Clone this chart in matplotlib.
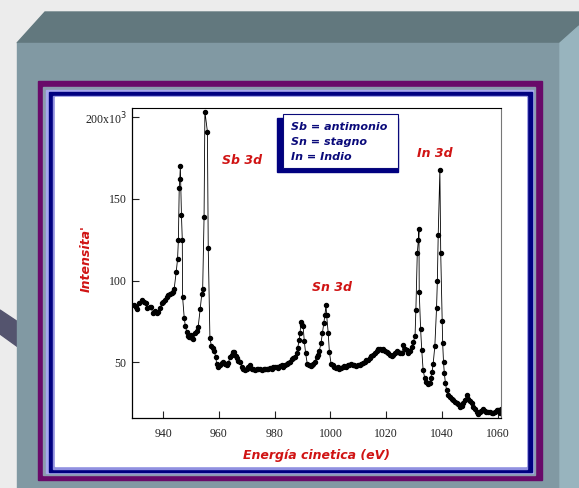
import matplotlib
matplotlib.use("Agg")
import matplotlib.pyplot as plt
from matplotlib.patches import Rectangle, Polygon

# XPS-like spectrum: kinetic energy (eV) and intensity (x10^3)
energy = [929.6, 930.2, 930.8, 931.5, 932.4, 933.2, 933.8, 934.2, 935.3, 935.8,
          936.3, 937.1, 937.7, 938.3, 939.0, 939.5, 940.1, 940.7, 941.3, 941.9,
          942.5, 943.1, 943.6, 944.0, 944.7, 945.2, 945.5, 945.8, 946.0, 946.2,
          946.6, 946.9, 947.0, 947.6, 948.0, 948.5, 949.0, 949.4, 950.0, 950.3,
          950.9, 951.5, 952.1, 952.6, 953.3, 953.9, 954.2, 954.7, 955.0, 955.9,
          956.2, 956.8, 957.3, 957.8, 958.3, 958.9, 959.2, 959.8, 960.4, 961.0,
          961.6, 962.2, 962.8, 963.4, 964.0, 964.6, 965.0, 965.4, 966.0, 966.4,
          967.0, 967.6, 968.2, 968.8, 969.4, 970.0, 970.6, 971.2, 971.8, 972.4,
          973.0, 973.6, 974.2, 974.8, 975.4, 976.0, 976.6, 977.2, 977.7, 978.3,
          978.9, 979.5, 980.1, 980.7, 981.3, 981.9, 982.5, 983.1, 983.7, 984.3,
          984.9, 985.5, 986.1, 986.7, 987.3, 987.9, 988.2, 988.8, 989.1, 989.4,
          989.7, 990.2, 990.6, 991.1, 991.7, 992.3, 992.9, 993.4, 993.8, 994.4,
          995.0, 995.4, 996.0, 996.6, 997.1, 997.6, 998.0, 998.4, 998.6, 999.2,
          999.6, 1000.2, 1000.8, 1001.4, 1002.0, 1002.6, 1003.2, 1003.8, 1004.4, 1005.0,
          1005.6, 1006.2, 1006.8, 1007.4, 1008.0, 1008.6, 1009.2, 1009.8, 1010.4, 1011.0,
          1011.6, 1012.2, 1012.8, 1013.4, 1014.0, 1014.6, 1015.2, 1015.9, 1016.5, 1017.1,
          1017.7, 1018.3, 1018.9, 1019.5, 1020.1, 1020.7, 1021.3, 1021.9, 1022.5, 1023.1,
          1023.7, 1024.3, 1024.9, 1025.5, 1026.1, 1026.7, 1027.3, 1027.9, 1028.5, 1029.1,
          1029.7, 1030.3, 1030.6, 1031.1, 1031.5, 1031.7, 1031.8, 1032.3, 1032.7, 1033.2,
          1033.8, 1034.4, 1035.0, 1035.6, 1035.9, 1036.4, 1036.8, 1037.4, 1038.0, 1038.3,
          1038.6, 1039.2, 1039.5, 1040.0, 1040.2, 1040.5, 1040.8, 1041.2, 1041.6, 1042.2,
          1042.8, 1043.4, 1044.0, 1044.6, 1045.2, 1045.8, 1046.4, 1047.0, 1047.6, 1048.2,
          1048.8, 1049.4, 1050.0, 1050.6, 1051.2, 1051.8, 1052.4, 1052.9, 1053.5, 1054.1,
          1054.7, 1055.3, 1055.9, 1056.5, 1057.1, 1057.7, 1058.3, 1058.9, 1059.5, 1060.1,
          1060.6, 1061.0]
intensity = [85, 83.5, 82.3, 86, 88, 87, 86.5, 83, 84, 83.5,
             80, 81.5, 80, 81, 83, 86, 87, 88, 90, 91,
             91.5, 92.5, 93, 95, 105, 113, 125, 156.5, 162, 170,
             140, 125, 90, 77, 72, 68.6, 66, 65.5, 66.5, 65,
             64, 67.6, 69, 71.7, 82.3, 92, 94.6, 138.8, 203.6, 191.3,
             119.7, 65, 60, 58.4, 57, 53, 49, 47, 48, 49.5,
             50, 49, 48.5, 49.5, 53, 54.5, 56.3, 56, 54, 52.5,
             50.5, 50, 47, 46, 45, 46, 47, 48, 46, 45.5,
             45, 45.5, 46, 45.5, 45, 46, 45.5, 45.5, 46, 46.5,
             46, 47, 47, 47, 46.5, 47.5, 48, 47, 48, 49,
             49.5, 50, 51.6, 52.5, 53.3, 55.3, 58.4, 63.5, 68, 74.5,
             73, 72, 63, 55.3, 48.8, 48, 47.5, 48, 48.8, 50,
             53, 54.3, 57, 61.5, 67.6, 74, 78.8, 85, 79, 67.6,
             56.3, 49, 48, 47, 46.5, 47, 46, 46.5, 47, 47.5,
             47, 48, 48.5, 49, 48.5, 48, 47.5, 48, 48.5, 49,
             49.5, 50, 51, 51.5, 52.3, 53.5, 54.5, 55.3, 57, 57.8,
             58, 57.5, 57.8, 56.5, 56, 55.3, 54.5, 54, 54.3, 55.5,
             57, 56, 55.7, 55.3, 60.4, 58, 57.4, 55.7, 57, 59.4,
             62.5, 66, 82, 116.7, 125, 131.6, 93, 70, 57.4, 45,
             40, 37.5, 36.5, 37, 40, 44, 49, 60, 83, 100,
             128, 167.8, 117, 75, 61.5, 50, 43, 37, 32.8, 30,
             28.7, 27.5, 26.5, 25.7, 25, 24, 22.6, 23, 25, 27,
             29.8, 27.1, 26, 25, 22.6, 21, 19.5, 18.1, 19.5, 20,
             21, 20, 19.5, 19.5, 19.5, 19, 18.9, 19.5, 20.5, 20.5,
             19, 21]

x_ticks = [940, 960, 980, 1000, 1020, 1040, 1060]
y_ticks = [50, 100, 150, 200]
y_ticklabels = ["50", "100", "150", "200x10$^3$"]

peaks = [("Sb 3d", 968.3, 173.3), ("Sn 3d", 1000.5, 96.0), ("In 3d", 1037.4, 177.6)]
legend_lines = ["Sb = antimonio", "Sn = stagno", "In = Indio"]

red = "#d01414"
navy = "#0a0a7a"

W, H = 579, 488
fig = plt.figure(figsize=(W / 100, H / 100), dpi=100)
fig.patch.set_facecolor("#ececec")

# slide decoration, drawn in pixel coordinates
bg = fig.add_axes([0, 0, 1, 1])
bg.set_xlim(0, W)
bg.set_ylim(H, 0)
bg.axis("off")
bg.add_patch(Polygon([(0, 310), (18, 322), (18, 347), (0, 334)], color="#54546e"))
bg.add_patch(Polygon([(17, 43), (45, 12), (579, 12), (579, 26), (560, 43)], color="#62787e"))
bg.add_patch(Rectangle((17, 43), 543, 445, color="#8199a3"))
bg.add_patch(Polygon([(560, 43), (579, 26), (579, 488), (560, 488)], color="#98b4be"))

frame = [((38, 81), (542, 480), "#690a69"),
         ((43, 87), (535, 475), "#8b9cae"),
         ((46, 90), (533, 473), "#a8a8ee"),
         ((49, 92), (532, 472), "#000080"),
         ((53, 96), (527, 469), "#9090e0"),
         ((55, 97), (526, 466), "white")]
for (x0, y0), (x1, y1), c in frame:
    bg.add_patch(Rectangle((x0, y0), x1 - x0, y1 - y0, color=c))

# legend box with navy drop shadow
bg.add_patch(Rectangle((277, 118), 121, 54, color="#000080"))
bg.add_patch(Rectangle((283, 113.5), 115, 54.5, facecolor="white", edgecolor=navy, lw=0.8))
for i, line in enumerate(legend_lines):
    bg.text(291, 127 + i * 15, line, color=navy, fontsize=8, fontweight="bold",
            fontstyle="italic", va="center", ha="left")

# spectrum
ax = fig.add_axes([131.5 / W, 1 - 418 / H, 369.5 / W, 310 / H])
ax.set_facecolor("none")
ax.plot(energy, intensity, color="black", lw=0.6, marker="o", ms=2.9)
ax.set_xlim(928.7, 1061.1)
ax.set_ylim(15.7, 205.8)
ax.set_xticks(x_ticks)
ax.set_yticks(y_ticks)
ax.set_yticklabels(y_ticklabels)
ax.tick_params(direction="in", length=5, width=0.8, labelsize=8.5, colors="#222222")
ax.tick_params(axis="x", pad=7)
ax.tick_params(axis="y", pad=3.5)
for lbl in ax.get_xticklabels() + ax.get_yticklabels():
    lbl.set_family("Liberation Serif")
ax.spines["top"].set_linewidth(0.8)
ax.spines["right"].set_color("#777777")
ax.spines["right"].set_linewidth(0.8)
for s in ["left", "bottom"]:
    ax.spines[s].set_linewidth(0.9)

for name, xe, yi in peaks:
    ax.text(xe, yi, name, color=red, fontsize=9, fontweight="bold", fontstyle="italic",
            ha="center", va="center")

ax.set_xlabel("Energía cinetica (eV)", color=red, fontsize=9, fontweight="bold",
              fontstyle="italic")
ax.xaxis.set_label_coords(0.502, -0.10)
ax.set_ylabel("Intensita'", color=red, fontsize=9, fontweight="bold", fontstyle="italic",
              va="center")
ax.yaxis.set_label_coords(-0.123, 0.515)

fig.savefig("out.png", dpi=100, facecolor=fig.get_facecolor())
